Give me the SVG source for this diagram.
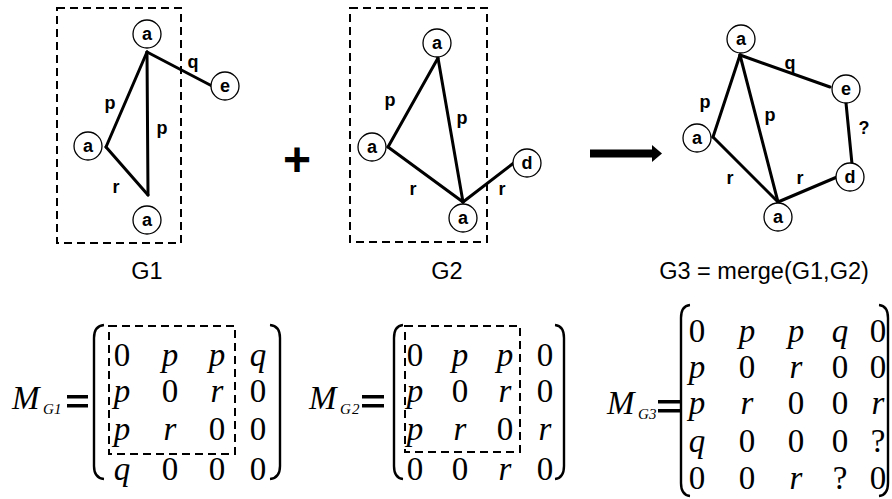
<svg xmlns="http://www.w3.org/2000/svg" width="892" height="499" viewBox="0 0 892 499">
<style>
.nd{fill:#fff;stroke:#000;stroke-width:1.3}
.nl{font-family:"Liberation Sans",Arial,sans-serif;font-weight:bold;font-size:18px;text-anchor:middle;fill:#000}
.el{font-family:"Liberation Sans",Arial,sans-serif;font-weight:bold;font-size:18px;text-anchor:middle;fill:#000}
.ed{stroke:#000;stroke-width:3;fill:none;stroke-linecap:round}
.box{fill:none;stroke:#000;stroke-width:2;stroke-dasharray:8,5}
.cap{font-family:"Liberation Sans",Arial,sans-serif;font-size:23.5px;text-anchor:middle;fill:#000}
.mx{font-family:"Liberation Serif","Times New Roman",serif;font-size:33px;text-anchor:middle;fill:#000}
.it{font-style:italic}
.M{font-family:"Liberation Serif","Times New Roman",serif;font-style:italic;font-size:33px;fill:#000}
.sub{font-family:"Liberation Serif","Times New Roman",serif;font-style:italic;font-size:15px;fill:#000}
.par{fill:none;stroke:#000;stroke-width:2.4}
.eq{fill:#000}
</style>
<rect width="892" height="499" fill="#fff"/>

<!-- dashed boxes -->
<rect class="box" x="57" y="8" width="124" height="235"/>
<rect class="box" x="350" y="8" width="137" height="234"/>

<g id="connectors">
  <!-- G1 -->
  <line class="ed" x1="147" y1="52" x2="212" y2="86"/>
  <line class="ed" x1="147" y1="52" x2="106" y2="147"/>
  <line class="ed" x1="147" y1="52" x2="148" y2="195"/>
  <line class="ed" x1="106" y1="147" x2="148" y2="195"/>
  <!-- G2 -->
  <line class="ed" x1="438" y1="58" x2="388" y2="147"/>
  <line class="ed" x1="438" y1="58" x2="463" y2="202"/>
  <line class="ed" x1="388" y1="147" x2="463" y2="202"/>
  <line class="ed" x1="463" y1="202" x2="515" y2="162"/>
  <!-- G3 -->
  <line class="ed" x1="740" y1="55" x2="830" y2="87"/>
  <line class="ed" x1="740" y1="55" x2="713" y2="137"/>
  <line class="ed" x1="740" y1="55" x2="778" y2="202"/>
  <line class="ed" x1="713" y1="137" x2="778" y2="202"/>
  <line class="ed" x1="778" y1="202" x2="837" y2="177"/>
  <line class="ed" x1="846" y1="103" x2="852" y2="164"/>
  <!-- big arrow -->
  <rect x="590" y="149.5" width="63" height="8" fill="#000"/>
  <polygon points="652,145 662,153.5 652,162" fill="#000"/>
</g>

<g id="edge-labels">
  <text class="el" x="110" y="109">p</text>
  <text class="el" x="162" y="134">p</text>
  <text class="el" x="116" y="193">r</text>
  <text class="el" x="193" y="68">q</text>
  <text class="el" x="390" y="106">p</text>
  <text class="el" x="462" y="124">p</text>
  <text class="el" x="413" y="195">r</text>
  <text class="el" x="502" y="195">r</text>
  <text class="el" x="705" y="108">p</text>
  <text class="el" x="770" y="121">p</text>
  <text class="el" x="790" y="69">q</text>
  <text class="el" x="864" y="134">?</text>
  <text class="el" x="730" y="184">r</text>
  <text class="el" x="800" y="184">r</text>
</g>

<!-- G1 nodes -->
<g id="g1-a1"><circle class="nd" cx="147" cy="34" r="14"/><text class="nl" x="147" y="40">a</text></g>
<g id="g1-e"><circle class="nd" cx="225" cy="86" r="14"/><text class="nl" x="225" y="92">e</text></g>
<g id="g1-a2"><circle class="nd" cx="88" cy="146" r="14"/><text class="nl" x="88" y="152">a</text></g>
<g id="g1-a3"><circle class="nd" cx="147" cy="220" r="14"/><text class="nl" x="147" y="226">a</text></g>
<!-- G2 nodes -->
<g id="g2-a1"><circle class="nd" cx="437" cy="43" r="14"/><text class="nl" x="437" y="49">a</text></g>
<g id="g2-a2"><circle class="nd" cx="372" cy="147" r="14"/><text class="nl" x="372" y="153">a</text></g>
<g id="g2-a3"><circle class="nd" cx="463" cy="218" r="14"/><text class="nl" x="463" y="224">a</text></g>
<g id="g2-d"><circle class="nd" cx="527" cy="163" r="14"/><text class="nl" x="527" y="169">d</text></g>
<!-- G3 nodes -->
<g id="g3-a1"><circle class="nd" cx="741" cy="39" r="14"/><text class="nl" x="741" y="45">a</text></g>
<g id="g3-e"><circle class="nd" cx="846" cy="89" r="14"/><text class="nl" x="846" y="95">e</text></g>
<g id="g3-a2"><circle class="nd" cx="697" cy="138" r="14"/><text class="nl" x="697" y="144">a</text></g>
<g id="g3-d"><circle class="nd" cx="850" cy="177" r="14"/><text class="nl" x="850" y="183">d</text></g>
<g id="g3-a3"><circle class="nd" cx="778" cy="217" r="14"/><text class="nl" x="778" y="223">a</text></g>

<!-- plus -->
<text x="297" y="176" font-family="'Liberation Sans',Arial,sans-serif" font-weight="bold" font-size="48" text-anchor="middle">+</text>

<!-- captions -->
<text class="cap" x="147" y="279">G1</text>
<text class="cap" x="447" y="279">G2</text>
<text class="cap" x="764" y="279">G3 = merge(G1,G2)</text>

<!-- Matrix G1 -->
<g id="mat-g1">
  <text class="M" x="12" y="409">M</text><text class="sub" x="43" y="414">G</text><text class="sub" x="54" y="414" font-style="normal">1</text>
  <rect class="eq" x="67" y="395" width="21" height="3.5"/><rect class="eq" x="67" y="404" width="21" height="3.5"/>
  <path class="par" d="M104,325 Q94,326 94,338 L94,466 Q94,478 104,479"/>
  <path class="par" d="M270,325 Q280,326 280,338 L280,466 Q280,478 270,479"/>
  <rect class="box" x="109" y="326" width="126" height="128"/>
  <text class="mx" x="122" y="366">0</text><text class="mx it" x="170" y="366">p</text><text class="mx it" x="217" y="366">p</text><text class="mx it" x="258" y="366">q</text>
  <text class="mx it" x="122" y="402">p</text><text class="mx" x="170" y="402">0</text><text class="mx it" x="217" y="402">r</text><text class="mx" x="258" y="402">0</text>
  <text class="mx it" x="122" y="440">p</text><text class="mx it" x="170" y="440">r</text><text class="mx" x="217" y="440">0</text><text class="mx" x="258" y="440">0</text>
  <text class="mx it" x="122" y="480">q</text><text class="mx" x="170" y="480">0</text><text class="mx" x="217" y="480">0</text><text class="mx" x="258" y="480">0</text>
</g>

<!-- Matrix G2 -->
<g id="mat-g2">
  <text class="M" x="309" y="409">M</text><text class="sub" x="340" y="414">G</text><text class="sub" x="352" y="414" font-style="normal">2</text>
  <rect class="eq" x="362" y="395" width="22" height="3.5"/><rect class="eq" x="362" y="404" width="22" height="3.5"/>
  <path class="par" d="M403,325 Q394,326 394,338 L394,466 Q394,478 403,479"/>
  <path class="par" d="M555,325 Q564,326 564,338 L564,466 Q564,478 555,479"/>
  <rect class="box" x="405" y="326" width="115" height="126"/>
  <text class="mx" x="415" y="366">0</text><text class="mx it" x="460" y="366">p</text><text class="mx it" x="505" y="366">p</text><text class="mx" x="545" y="366">0</text>
  <text class="mx it" x="415" y="402">p</text><text class="mx" x="460" y="402">0</text><text class="mx it" x="505" y="402">r</text><text class="mx" x="545" y="402">0</text>
  <text class="mx it" x="415" y="440">p</text><text class="mx it" x="460" y="440">r</text><text class="mx" x="505" y="440">0</text><text class="mx it" x="545" y="440">r</text>
  <text class="mx" x="415" y="480">0</text><text class="mx" x="460" y="480">0</text><text class="mx it" x="505" y="480">r</text><text class="mx" x="545" y="480">0</text>
</g>

<!-- Matrix G3 -->
<g id="mat-g3">
  <text class="M" x="607" y="414">M</text><text class="sub" x="638" y="419">G</text><text class="sub" x="649" y="419" font-style="normal">3</text>
  <rect class="eq" x="658" y="400" width="22" height="3.5"/><rect class="eq" x="658" y="409" width="22" height="3.5"/>
  <path class="par" d="M690,305 Q681,306 681,318 L681,483 Q681,495 690,496"/>
  <path class="par" d="M879,305 Q888,306 888,318 L888,483 Q888,495 879,496"/>
  <text class="mx" x="697" y="342">0</text><text class="mx it" x="747" y="342">p</text><text class="mx it" x="796" y="342">p</text><text class="mx it" x="840" y="342">q</text><text class="mx" x="878" y="342">0</text>
  <text class="mx it" x="697" y="378">p</text><text class="mx" x="747" y="378">0</text><text class="mx it" x="796" y="378">r</text><text class="mx" x="840" y="378">0</text><text class="mx" x="878" y="378">0</text>
  <text class="mx it" x="697" y="414">p</text><text class="mx it" x="747" y="414">r</text><text class="mx" x="796" y="414">0</text><text class="mx" x="840" y="414">0</text><text class="mx it" x="878" y="414">r</text>
  <text class="mx it" x="697" y="452">q</text><text class="mx" x="747" y="452">0</text><text class="mx" x="796" y="452">0</text><text class="mx" x="840" y="452">0</text><text class="mx" x="878" y="452">?</text>
  <text class="mx" x="697" y="489">0</text><text class="mx" x="747" y="489">0</text><text class="mx it" x="796" y="489">r</text><text class="mx" x="840" y="489">?</text><text class="mx" x="878" y="489">0</text>
</g>
</svg>
